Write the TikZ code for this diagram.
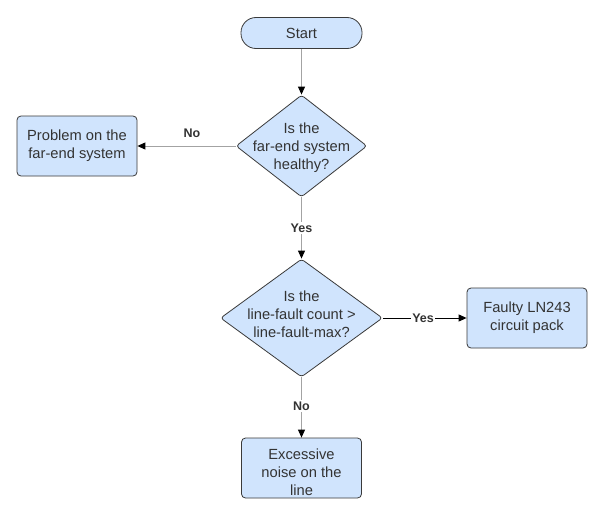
\documentclass[tikz,border=0pt]{standalone}
\usepackage{fontspec}
\setmainfont{Liberation Sans}
\usetikzlibrary{shapes.geometric,arrows.meta}
\definecolor{fillb}{HTML}{D0E4FD}
\definecolor{edgec}{HTML}{3A3A3A}
\definecolor{txtc}{HTML}{333333}
\definecolor{lnc}{HTML}{A3A3A3}
\begin{document}
\begin{tikzpicture}[x=1pt,y=-1pt,
 base/.style={draw=edgec, fill=fillb, line width=0.8pt, inner sep=0pt,
   font=\fontsize{14.7}{18}\selectfont, text=txtc, align=center},
 proc/.style={base, rectangle, rounded corners=4pt, minimum width=120pt, minimum height=60pt},
 term/.style={base, rectangle, rounded corners=15pt, minimum width=121pt, minimum height=31pt},
 dec/.style={base, diamond, rounded corners=3pt},
 lbl/.style={font=\fontsize{14.7}{18}\selectfont, text=txtc, align=center, inner sep=0pt},
 yn/.style={font=\bfseries\fontsize{12.5}{14}\selectfont, text=txtc, fill=white, inner sep=1.5pt},
 conn/.style={draw=lnc, line width=1pt, -{Triangle[length=8pt,width=7pt,color=black]}},
 connk/.style={conn, draw=black}]
\fill[white] (0,0) rectangle (609,519);
\useasboundingbox (0,0) rectangle (609,519);

\node[term] (start) at (301.5,33) {Start};
\node[dec, minimum width=131pt, minimum height=102pt] (d1) at (301.5,146) {};
\node[lbl] (d1t) at (301.5,147.5) {Is the\\far-end system\\healthy?};
\node[proc] (prob) at (77,146) {Problem on the\\far-end system};
\node[dec, minimum width=162pt, minimum height=118pt] (d2) at (301.5,318) {};
\node[lbl] (d2t) at (301.5,314) {Is the\\line-fault count >\\line-fault-max?};
\node[proc] (fault) at (527,318) {Faulty LN243\\circuit pack};
\node[proc] (exc) at (301.5,468) {};
\node[lbl] (exct) at (301.5,472) {Excessive\\noise on the\\line};

\draw[conn] (start.south) -- (d1.north);
\draw[conn] (d1.west) -- (prob.east);
\node[yn, fill=none] (no1) at (192,133) {No};
\draw[conn] (d1.south) -- node[yn] (yes1) {Yes} (d2.north);
\draw[connk] (d2.east) -- node[yn, pos=0.48] (yes2) {Yes} (fault.west);
\draw[conn] (d2.south) -- node[yn, pos=0.48] (no2) {No} (exc.north);
\end{tikzpicture}
\end{document}
